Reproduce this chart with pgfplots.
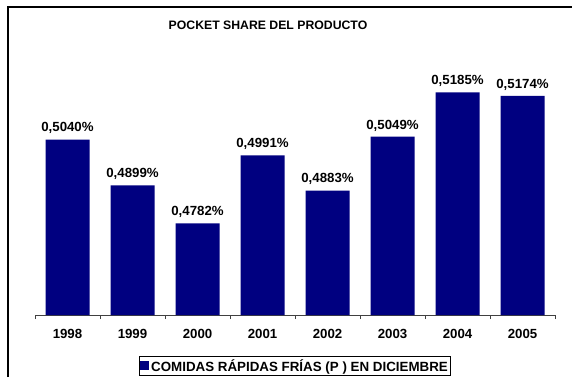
\documentclass[border=0pt]{standalone}
\usepackage{pgfplots}
\pgfplotsset{compat=1.18}
\usepackage{fontspec}
\setmainfont{Liberation Sans}
\definecolor{barblue}{HTML}{000080}
\newcommand{\lbl}{\fontsize{13.3}{15}\selectfont\bfseries}
\begin{document}
\begin{tikzpicture}[x=1bp,y=1bp]
\useasboundingbox (0,0) rectangle (572,377);
\draw[line width=1.3bp] (8,0) -- (8,370) -- (572,370);
\node[font=\fontsize{12.3}{14}\selectfont\bfseries] at (268,352) {POCKET SHARE DEL PRODUCTO};
\begin{axis}[
  at={(35bp,62bp)}, anchor=south west,
  scale only axis, width=520bp, height=260bp,
  xmin=-0.5, xmax=7.5, ymin=0.45, ymax=0.53,
  axis x line=bottom, axis y line=none,
  x axis line style={-, line width=0.8bp, black!75},
  xtick={0,...,7},
  xticklabels={1998,1999,2000,2001,2002,2003,2004,2005},
  major tick length=0pt,
  minor xtick={-0.5,0.5,...,7.5},
  minor tick length=4bp,
  tick align=outside,
  minor tick style={line width=0.8bp, black!75},
  xticklabel style={font=\lbl, yshift=-11bp},
  ybar, bar width=44bp,
  nodes near coords,
  point meta=explicit symbolic,
  every node near coord/.append style={font=\lbl, yshift=2bp},
  legend style={at={(0.5,-0.196)}, anchor=center, draw=black, line width=0.8bp,
    font=\fontsize{13.4}{15}\selectfont\bfseries, inner sep=0.5pt, legend cell align=left},
  legend image code/.code={\fill[barblue] (0bp,-4.5bp) rectangle (9bp,4.5bp);},
]
\addplot[fill=barblue, draw=none] coordinates {
  (0,0.5040) [0,5040\%]
  (1,0.4899) [0,4899\%]
  (2,0.4782) [0,4782\%]
  (3,0.4991) [0,4991\%]
  (4,0.4883) [0,4883\%]
  (5,0.5049) [0,5049\%]
  (6,0.5185) [0,5185\%]
  (7,0.5174) [0,5174\%]
};
\addlegendentry{COMIDAS RÁPIDAS FRÍAS (P ) EN DICIEMBRE}
\end{axis}
\end{tikzpicture}
\end{document}
